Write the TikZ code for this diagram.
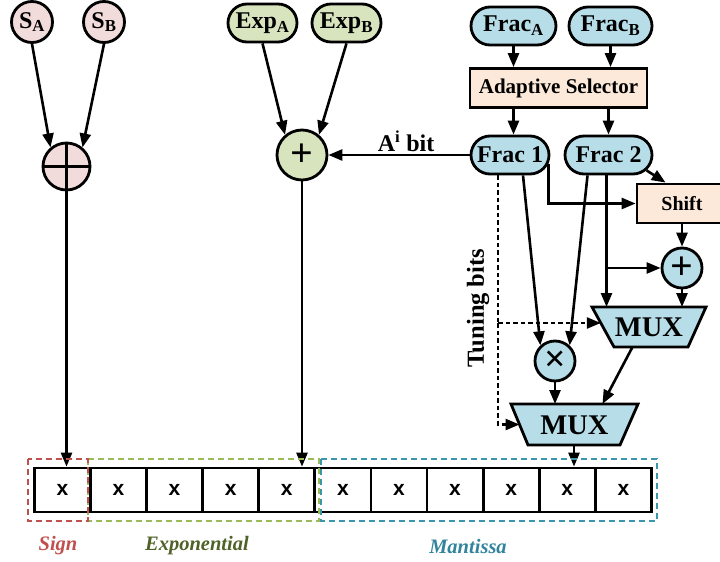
\documentclass[tikz,border=0pt]{standalone}
\usepackage{fontspec}
\setmainfont{Liberation Serif}
\newfontfamily\cellfont{Liberation Sans}
\usetikzlibrary{arrows.meta,shapes.misc,calc}
\definecolor{signfill}{HTML}{F2DCDB}
\definecolor{expfill}{HTML}{D7E4BD}
\definecolor{fracfill}{HTML}{B7DEE8}
\definecolor{boxfill}{HTML}{FDE9D9}
\definecolor{signcol}{HTML}{C0504D}
\definecolor{expline}{HTML}{9BBB59}
\definecolor{explabel}{HTML}{4F6228}
\definecolor{manline}{HTML}{3C97AE}
\definecolor{manlabel}{HTML}{31849B}
\begin{document}
\begin{tikzpicture}[x=1pt,y=-1pt,
  every node/.style={font=\bfseries},
  arr/.style={line width=2.6pt,-{Triangle[length=14pt,width=11pt]}},
  dashln/.style={line width=2.6pt,dash pattern=on 4.5pt off 3pt},
  pill/.style={rounded rectangle,draw,line width=2.8pt,minimum height=38pt,
    inner sep=1pt,font=\fontsize{24}{26}\selectfont\bfseries},
  op/.style={circle,draw,line width=2.8pt,inner sep=0pt},
  blockbox/.style={rectangle,draw,line width=2.8pt,fill=boxfill,
    minimum height=39pt,inner sep=1pt,font=\fontsize{21}{23}\selectfont\bfseries},
  muxshape/.style={draw,line width=2.8pt,fill=fracfill,line join=miter},
  muxtext/.style={font=\fontsize{28.5}{30}\selectfont\bfseries},
  bitcell/.style={rectangle,draw,line width=2.8pt,minimum width=56.1pt,
    minimum height=44pt,inner sep=0pt,font=\cellfont\fontsize{21}{22}\selectfont\bfseries},
  field/.style={line width=2pt,dash pattern=on 6pt off 4pt},
  fieldlabel/.style={font=\fontsize{20.5}{22}\selectfont\bfseries\itshape}]
\useasboundingbox (0,0) rectangle (720,562);
\clip (0,0) rectangle (720,562);

% sign path
\node[op,fill=signfill,minimum size=41pt,font=\fontsize{24}{26}\selectfont\bfseries] (SA) at (32,22) {S\textsubscript{A}};
\node[op,fill=signfill,minimum size=41pt,font=\fontsize{24}{26}\selectfont\bfseries] (SB) at (104,22) {S\textsubscript{B}};
\node[op,fill=signfill,minimum size=47pt] (xor) at (66.5,166.5) {};
\draw[line width=2.8pt] (xor.north) -- (xor.south) (xor.west) -- (xor.east);
\draw[arr] (SA.south) -- (xor.130);
\draw[arr] (SB.south) -- (xor.50);

% exponent path
\node[pill,fill=expfill,minimum width=71pt] (ExpA) at (262.5,23) {Exp\textsubscript{A}};
\node[pill,fill=expfill,minimum width=71pt] (ExpB) at (346.5,23) {Exp\textsubscript{B}};
\node[op,fill=expfill,minimum size=50pt,font=\fontsize{40}{40}\selectfont\bfseries] (gplus) at (302,155) {+};
\draw[arr] (ExpA.south) -- (gplus.130);
\draw[arr] (ExpB.south) -- (gplus.50);

% fraction path
\node[pill,fill=fracfill,minimum width=87pt] (FracA) at (513.5,26) {Frac\textsubscript{A}};
\node[pill,fill=fracfill,minimum width=85pt] (FracB) at (610.5,26) {Frac\textsubscript{B}};
\node[blockbox,minimum width=177pt] (Sel) at (558.5,88) {Adaptive Selector};
\node[pill,fill=fracfill,minimum width=80pt] (Frac1) at (510,155) {Frac 1};
\node[pill,fill=fracfill,minimum width=89pt] (Frac2) at (608.5,155) {Frac 2};
\node[blockbox,minimum width=90pt,font=\fontsize{20}{22}\selectfont\bfseries] (Shift) at (682,203.5) {Shift};
\node[op,fill=fracfill,minimum size=40pt,font=\fontsize{40}{40}\selectfont\bfseries] (bplus) at (682,268) {+};
\node[op,fill=fracfill,minimum size=40pt,font=\fontsize{38}{38}\selectfont\bfseries] (mult) at (555,361) {×};

\path[muxshape] (592,307) coordinate (m1nw) -- (706,307) coordinate (m1ne)
  -- (688,347) coordinate (m1se) -- (614,347) coordinate (m1sw) -- cycle;
\node[muxtext] (mux1) at (649,327.5) {MUX};
\path[muxshape] (511,404) coordinate (m2nw) -- (638,404) coordinate (m2ne)
  -- (620,445) coordinate (m2se) -- (528,445) coordinate (m2sw) -- cycle;
\node[muxtext] (mux2) at (574.5,425) {MUX};
\coordinate (m1l) at ($(m1nw)!0.4!(m1sw)$);
\coordinate (m2l) at ($(m2nw)!0.5!(m2sw)$);
\coordinate (m1o) at ($(m1sw)!0.25!(m1se)$);
\coordinate (m2i) at ($(m2nw)!0.72!(m2ne)$);
\coordinate (m2o) at ($(m2sw)!0.5!(m2se)$);

\draw[arr] (FracA.south) -- (FracA.south |- Sel.north);
\draw[arr] (FracB.south) -- (FracB.south |- Sel.north);
\draw[arr] (FracA.south |- Sel.south) -- (FracA.south |- Frac1.north);
\draw[arr] (Frac2.north |- Sel.south) -- (Frac2.north);

\draw[arr] (Frac1.west) -- (gplus.east);
\node[font=\fontsize{24}{26}\selectfont\bfseries] (abit) at (406,141) {A\textsuperscript{i} bit};

\draw[arr] (Frac2.-22) -- ($(Shift.north west)+(30,0)$);
\draw[arr] (Frac1.-13) |- (Shift.west);
\draw[arr] (Shift.south) -- (bplus.north);

\coordinate (f2v) at ($(Frac2.south)+(-2,0)$);
\draw[arr] (f2v) -- (f2v |- m1nw);
\draw[arr] (f2v |- bplus.west) -- (bplus.west);
\draw[arr] (bplus.south) -- (bplus.south |- m1nw);

\draw[arr] ($(Frac1.south)+(13,0)$) -- (mult.133);
\draw[arr] ($(Frac2.south)+(-21,0)$) -- (mult.47);

\draw[arr] (m1o) -- (m2i);
\draw[arr] (mult.south) -- (mult.south |- m2nw);

% tuning bits
\coordinate (tb) at ($(Frac1.south)+(-12,0)$);
\draw[dashln] (tb) -- (tb |- m1l);
\draw[dashln,-{Triangle[length=14pt,width=11pt]}] (tb |- m1l) -- (m1l);
\draw[dashln,-{Triangle[length=14pt,width=11pt]}] (tb |- m1l) |- (m2l);
\node[rotate=90,font=\fontsize{24.5}{26}\selectfont\bfseries] (tune) at (478,308) {Tuning bits};

% result word
\foreach \i in {0,...,10}
  \node[bitcell] (b\i) at ({62.35+56.1*\i},490) {x};

\draw[arr] (xor.south) -- (xor.south |- b0.north);
\draw[arr] (gplus.south) -- (gplus.south |- b4.north);
\draw[arr] (m2o) -- (m2o |- b9.north);

\draw[field,draw=manline] (321,459) rectangle (657,521);
\draw[field,draw=expline] (88,459) rectangle (319,521);
\draw[field,draw=signcol] (28,459) rectangle (88,521);

\node[fieldlabel,text=signcol] (lsign) at (58,546) {Sign};
\node[fieldlabel,text=explabel] (lexp) at (197,546) {Exponential};
\node[fieldlabel,text=manlabel] (lman) at (468,546) {Mantissa};
\end{tikzpicture}
\end{document}
